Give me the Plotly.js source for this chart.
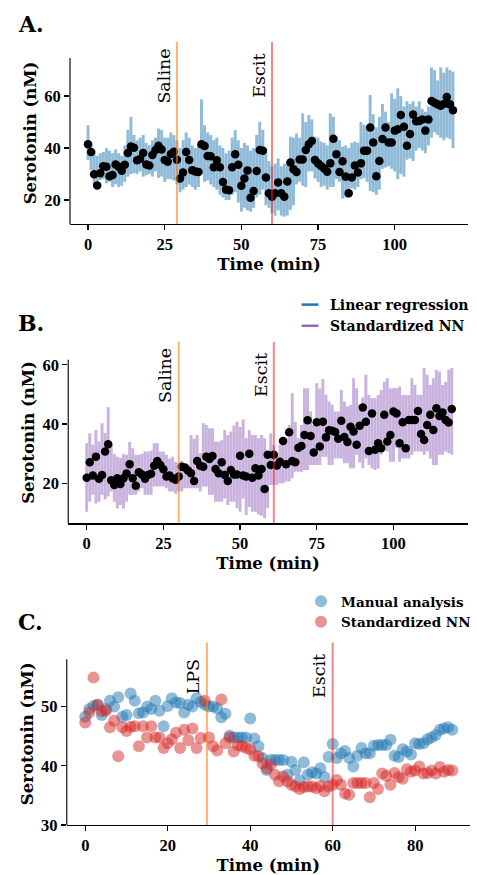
<!DOCTYPE html>
<html>
<head>
<meta charset="utf-8">
<script src="https://cdn.plot.ly/plotly-3.0.1.min.js"></script>
<style>html,body{margin:0;padding:0;background:#fff;}#chart{width:477px;height:875px;}</style>
</head>
<body>
<div id="chart"></div>
<script>
// ---------- DATA ----------
const minutesAB = [0,1,2,3,4,5,6,7,8,9,10,11,12,13,14,15,16,17,18,19,20,21,22,23,24,25,26,27,28,29,30,31,32,33,34,35,36,37,38,39,40,41,42,43,44,45,46,47,48,49,50,51,52,53,54,55,56,57,58,59,60,61,62,63,64,65,66,67,68,69,70,71,72,73,74,75,76,77,78,79,80,81,82,83,84,85,86,87,88,89,90,91,92,93,94,95,96,97,98,99,100,101,102,103,104,105,106,107,108,109,110,111,112,113,114,115,116,117,118,119];
const minutesC = [0,1,2,3,4,5,6,7,8,9,10,11,12,13,14,15,16,17,18,19,20,21,22,23,24,25,26,27,28,29,30,31,32,33,34,35,36,37,38,39,40,41,42,43,44,45,46,47,48,49,50,51,52,53,54,55,56,57,58,59,60,61,62,63,64,65,66,67,68,69,70,71,72,73,74,75,76,77,78,79,80,81,82,83,84,85,86,87,88,89];

// Panel A: measured serotonin (black dots) and linear-regression interval (blue bars)
const serotoninA = [41.5,38.5,29.9,25.6,30.3,33.0,32.8,29.1,29.6,33.7,32.8,31.3,33.6,38.1,40.6,40.1,35.3,35.8,38.1,33.7,33.3,37.3,39.2,40.9,39.4,35.4,34.7,37.7,38.6,35.5,28.3,30.6,38.5,35.4,31.5,31.0,30.8,41.5,40.8,36.9,36.8,32.6,35.3,32.6,26.9,24.0,23.8,32.6,37.6,33.6,25.5,28.3,31.4,20.9,23.5,31.2,39.2,39.0,28.7,22.6,21.3,22.6,26.7,22.6,21.3,27.1,34.4,31.8,30.8,35.6,35.6,39.2,41.5,42.7,35.4,34.1,33.1,32.1,30.9,34.1,43.6,37.6,30.8,34.9,29.0,22.6,28.7,33.3,30.6,34.1,39.0,39.0,47.9,42.1,29.1,35.0,43.5,47.9,42.1,42.1,46.7,47.2,52.7,48.2,40.9,45.4,52.9,50.3,50.4,51.0,46.7,51.0,58.1,57.4,56.8,56.3,56.9,59.6,56.8,54.5];
const highA = [48.8,42,39,37,38,38.5,40,39,38,39.5,38,37,41,47,52,45,43,44,45,42,41,43,44,47.5,47,44,44,46,45,43,40,43,46,44,41,40,41,58.7,48.8,46,45,43,44,41,40,38,39,44,46.9,43,40,42,41,39,40,45,50.1,47,40,35,33,34,36,33,34,35,44.4,44,45.6,44,53.3,50,52.7,51,44.4,44,42.5,42,41,53.3,52,44.4,43,40.5,41,40,42,42.5,42,50.1,49,48,60.4,53,48,52,57,54,50,61,59,63,60,56,58,57,58,56,58,55,54,56,71,70,66,71,69,71,70,69.4];
const lowA = [35.4,31.5,26,25,27.7,28,26.4,27,25,26,25,25.5,27,29,30,30.3,30,31,29,29.5,30,29,31,28.5,29,27,28,28,27.5,26,23,24,25,26,25,24,25,30,27,27.5,26,25,24,22,21,20,20,22,23,19,15.5,17,16,15.5,17,21,22,24,18,17,15,14,16,14,13.6,14,16.2,18,26,27,25.5,25,31,31,28.3,27,25,25.5,24,25,25,28,27,20.6,21,21,24.5,24,25,28,28.5,27,23.5,23,22,24,32,32.5,33,32,31,28,30,29,35.5,36,35,39,40,39,38,41,44,46,45,44,43,44,43.5,39.9];

// Panel B: measured serotonin (black dots) and standardized-NN interval (purple bars)
const serotoninB = [21.9,27.1,22.6,29.0,21.5,22.8,30.7,33.2,21.0,19.4,21.7,19.8,21.7,23.3,26.4,21.7,19.2,23.7,23.0,21.5,22.8,23.2,25.9,27.5,26.2,24.7,22.3,22.6,21.7,21.2,22.3,25.6,25.3,24.3,23.4,20.8,27.5,25.9,25.6,29.0,28.2,29.2,24.8,23.4,27.1,22.8,20.8,24.5,23.0,23.0,29.3,22.6,22.3,30.0,21.9,25.1,22.6,24.8,18.1,29.6,26.2,29.6,26.0,27.3,34.3,26.4,37.2,27.5,27.1,32.0,32.6,36.3,41.3,36.0,30.4,40.6,32.4,40.8,35.5,37.9,37.7,37.3,35.0,41.1,35.6,33.9,39.1,37.5,33.0,39.4,45.6,40.8,30.9,43.6,31.3,33.5,31.8,43.1,34.1,36.3,44.2,43.6,33.5,40.6,31.8,41.4,41.4,41.4,44.4,36.6,34.6,39.7,43.1,38.0,45.3,42.7,43.9,41.4,40.5,45.1];
const highB = [33.5,36.9,33,38,34,40.3,37,45.7,33,30,29,28.5,30,29.6,33.9,31.8,29.6,29.6,30,30.7,30.7,31,33.5,33.5,30.7,30.7,29.6,28.4,29,27.3,26.8,27.5,26,26,36.3,35,36.3,30.2,40.3,39.7,38.6,38.6,34.1,34,34.5,38,36.3,37.5,39.5,40.8,39,41.5,35.2,38,36.3,36.3,35.2,36.3,35.2,29.6,36.9,33,29.6,33,33,35.2,39.7,50.4,40.8,35.2,39.7,52.1,52.1,44.2,39.7,53.8,52,55.2,50,47.6,46.5,44.2,44.2,51.5,47.6,46,46.5,55.5,52.1,46.5,49,56.6,49.8,48.7,48.7,49.8,51.5,54.3,55.5,52.1,52.1,52.1,52.7,49.8,49.8,49.8,55.5,53.2,49.8,49.8,58.9,56.6,53.2,55.5,58.3,57.7,53.2,54.3,58.3,58.9];
const lowB = [10.4,13.8,16.1,13.2,13.8,16.1,14.5,15.5,17.2,13.8,11.6,12.7,11.5,13.8,16.1,16.1,16.1,17.2,18.3,16.1,16.1,16.1,18.9,18.9,18.9,18.9,18.3,17.2,17.2,16.5,17.2,17.2,18.3,18.3,18.3,18.3,18.3,17.2,18.9,18.9,16.1,16.1,13.8,13.8,13.8,14.9,12.7,13.8,13.8,11.6,10.4,14.9,9.3,12,10.4,10.4,9.5,9,8.2,11.6,19.4,19.4,19.4,20,20,20.6,20.6,21.7,23.9,23.9,23.9,24.5,24.5,26.2,26.2,26.2,26.2,29,29,26.2,26.2,28.4,28.4,28.4,26.8,26.8,25.1,25.1,29.6,27,25.1,28.4,26.2,25,24.5,25,29.6,31.2,30.7,27.3,27.3,31.8,27.3,28.4,28.4,28.4,29.6,30.7,30.7,30.7,29.6,30.7,28.4,26.2,26.2,29.6,29.6,30.7,30.1,29.6];

// Panel C: manual analysis vs standardized NN
const manualC = [48.3,49.6,50.1,50.3,48.6,49.6,51.0,50.0,51.6,48.3,48.6,52.2,51.0,48.9,49.0,50.0,49.6,51.0,49.3,46.7,50.1,51.4,50.7,50.6,49.0,50.3,50.0,51.4,50.8,50.3,50.0,50.0,49.7,48.2,48.8,45.1,44.8,44.8,44.8,44.8,48.0,44.6,43.3,41.3,39.3,41.0,41.0,41.0,41.0,38.5,40.7,39.3,37.5,40.6,38.5,38.9,38.7,39.6,38.1,41.5,43.7,41.3,42.1,42.5,41.3,39.9,41.7,43.0,42.1,42.1,43.4,43.5,43.5,43.5,44.4,41.7,41.5,42.8,42.4,41.9,43.8,43.7,43.8,44.5,44.8,45.2,46.1,46.3,46.5,46.1];
const nnC = [47.3,49.0,54.9,50.3,49.2,49.3,46.5,47.6,41.6,46.5,45.9,46.6,46.7,43.3,46.7,44.8,46.7,44.8,44.8,43.0,43.8,44.5,45.6,43.0,46.1,44.3,46.3,43.0,44.7,51.0,44.8,43.3,42.6,51.2,43.8,44.8,42.4,43.5,43.3,43.0,42.8,41.7,41.6,40.4,39.6,40.2,38.5,37.4,38.2,37.4,36.8,36.5,36.1,36.4,36.5,36.5,36.2,36.6,35.7,36.5,36.8,37.6,36.8,35.3,35.1,37.1,37.1,37.1,37.1,34.7,37.1,36.1,38.7,38.3,36.8,38.8,38.1,37.8,39.4,39.0,39.2,39.9,38.7,38.8,39.2,38.7,39.8,39.0,39.3,39.2];

// Injection times (min)
const eventsA = [29, 60];
const eventsB = [30, 61];
const eventsC = [29.5, 60];
const eventLabelsAB = ["Saline", "Escit"];
const eventLabelsC = ["LPS", "Escit"];
const eventColors = ["rgba(255,127,14,0.6)", "rgba(245,30,30,0.55)"];

const ticksAB = [0, 25, 50, 75, 100];
const ticksC = [0, 20, 40, 60, 80];
const yticksAB = [20, 40, 60];
const yticksC = [30, 40, 50];

// ---------- STYLE ----------
const serif = "DejaVu Serif, serif";
const tickFont = {family: "Liberation Serif, serif", size: 16.5, color: "#000", weight: "bold"};
const titleFont = {family: serif, size: 16.5, color: "#000", weight: "bold"};
const diff = (hi, lo) => hi.map((h, i) => h - lo[i]);

const traces = [
  {type: "bar", x: minutesAB, y: diff(highA, lowA), base: lowA, width: 0.95, xaxis: "x", yaxis: "y",
   marker: {color: "rgba(31,119,180,0.5)", line: {width: 0}}, showlegend: false, hoverinfo: "skip"},
  {type: "scatter", mode: "markers", x: minutesAB, y: serotoninA, xaxis: "x", yaxis: "y",
   marker: {color: "#000", size: 8.5}, showlegend: false},
  {type: "bar", x: minutesAB, y: diff(highB, lowB), base: lowB, width: 0.95, xaxis: "x2", yaxis: "y2",
   marker: {color: "rgba(148,103,189,0.5)", line: {width: 0}}, showlegend: false, hoverinfo: "skip"},
  {type: "scatter", mode: "markers", x: minutesAB, y: serotoninB, xaxis: "x2", yaxis: "y2",
   marker: {color: "#000", size: 8.5}, showlegend: false},
  {type: "scatter", mode: "markers", x: [null], y: [null], xaxis: "x2", yaxis: "y2", name: "Linear regression",
   legend: "legend", marker: {symbol: "line-ew", size: 12, line: {width: 2.5, color: "#1f77b4"}}},
  {type: "scatter", mode: "markers", x: [null], y: [null], xaxis: "x2", yaxis: "y2", name: "Standardized NN",
   legend: "legend", marker: {symbol: "line-ew", size: 12, line: {width: 2.5, color: "#9467bd"}}},
  {type: "scatter", mode: "markers", x: minutesC, y: manualC, xaxis: "x3", yaxis: "y3", name: "Manual analysis",
   legend: "legend2", marker: {color: "rgba(31,119,180,0.5)", size: 12, line: {width: 0}}},
  {type: "scatter", mode: "markers", x: minutesC, y: nnC, xaxis: "x3", yaxis: "y3", name: "Standardized NN",
   legend: "legend2", marker: {color: "rgba(214,39,40,0.5)", size: 12, line: {width: 0}}}
];

function xax(domain, range, tickvals, anchor) {
  return {domain, range, tickvals, anchor, ticks: "outside", ticklen: 5, tickwidth: 1.2, tickcolor: "#000",
    showline: true, linecolor: "#000", linewidth: 1.3, showgrid: false, zeroline: false, automargin: false,
    tickfont: tickFont, title: {text: "Time (min)", font: titleFont, standoff: 5}};
}
function yax(domain, range, tickvals, anchor) {
  return {domain, range, tickvals, anchor, ticks: "outside", ticklen: 5, tickwidth: 1.2, tickcolor: "#000",
    showline: false, showgrid: false, zeroline: false, automargin: false,
    tickfont: tickFont, title: {text: "Serotonin (nM)", font: titleFont, standoff: 3}};
}

const shapes = [];
const annotations = [];
function addPanel(xr, yr, events, labels, spineTop, spineBottom) {
  shapes.push({type: "line", xref: xr + " domain", x0: 0, x1: 0, yref: yr, y0: spineBottom, y1: spineTop,
    line: {color: "#333", width: 1.4}, layer: "above"});
  events.forEach((t, i) => {
    shapes.push({type: "line", xref: xr, x0: t, x1: t, yref: yr + " domain", y0: 0, y1: 1,
      line: {color: eventColors[i], width: 2}, layer: "above"});
    annotations.push({x: t, xref: xr, y: 0.815, yref: yr + " domain", text: labels[i], textangle: -90,
      xanchor: "right", yanchor: "middle", xshift: -1, showarrow: false,
      font: {family: serif, size: 17.5, color: "#000"}});
  });
}
addPanel("x", "y", eventsA, eventLabelsAB, 74.6, 10.77);
addPanel("x2", "y2", eventsB, eventLabelsAB, 61.7, 6.49);
addPanel("x3", "y3", eventsC, eventLabelsC, 58, 30);

[["A.", 24], ["B.", 323], ["C.", 622]].forEach(([t, py]) => {
  annotations.push({x: 16 / 477, xref: "paper", xanchor: "left", y: 1 - py / 875, yref: "paper", yanchor: "middle",
    text: t, showarrow: false, font: {family: serif, size: 22, color: "#000", weight: "bold"}});
});

const legendFont = {family: serif, size: 14, color: "#000", weight: "bold"};
const legendFontC = {family: serif, size: 13.5, color: "#000", weight: "bold"};
const layout = {
  width: 477, height: 875, margin: {l: 0, r: 0, t: 0, b: 0, autoexpand: false},
  paper_bgcolor: "#fff", plot_bgcolor: "rgba(0,0,0,0)", showlegend: true, barmode: "overlay",
  xaxis: xax([70 / 477, 468 / 477], [-5.87, 123.9], ticksAB, "y"),
  yaxis: yax([1 - 224 / 875, 1 - 42 / 875], [10.77, 80.8], yticksAB, "x"),
  xaxis2: xax([68.3 / 477, 468 / 477], [-6.0, 124.3], ticksAB, "y2"),
  yaxis2: yax([1 - 523.3 / 875, 1 - 341.7 / 875], [6.49, 67.8], yticksAB, "x2"),
  xaxis3: xax([66.7 / 477, 470 / 477], [-4.5, 93.3], ticksC, "y3"),
  yaxis3: yax([1 - 825 / 875, 1 - 642.7 / 875], [30, 60.8], yticksC, "x3"),
  legend: {x: 290 / 477, y: 1 - 289 / 875, xanchor: "left", yanchor: "top", bgcolor: "rgba(0,0,0,0)",
    font: legendFont, itemwidth: 30, tracegroupgap: 0},
  legend2: {x: 301 / 477, y: 1 - 586 / 875, xanchor: "left", yanchor: "top", bgcolor: "rgba(0,0,0,0)",
    font: legendFontC, itemwidth: 30, tracegroupgap: 0},
  shapes, annotations
};

Plotly.newPlot("chart", traces, layout, {staticPlot: true, displayModeBar: false});
</script>
</body>
</html>
